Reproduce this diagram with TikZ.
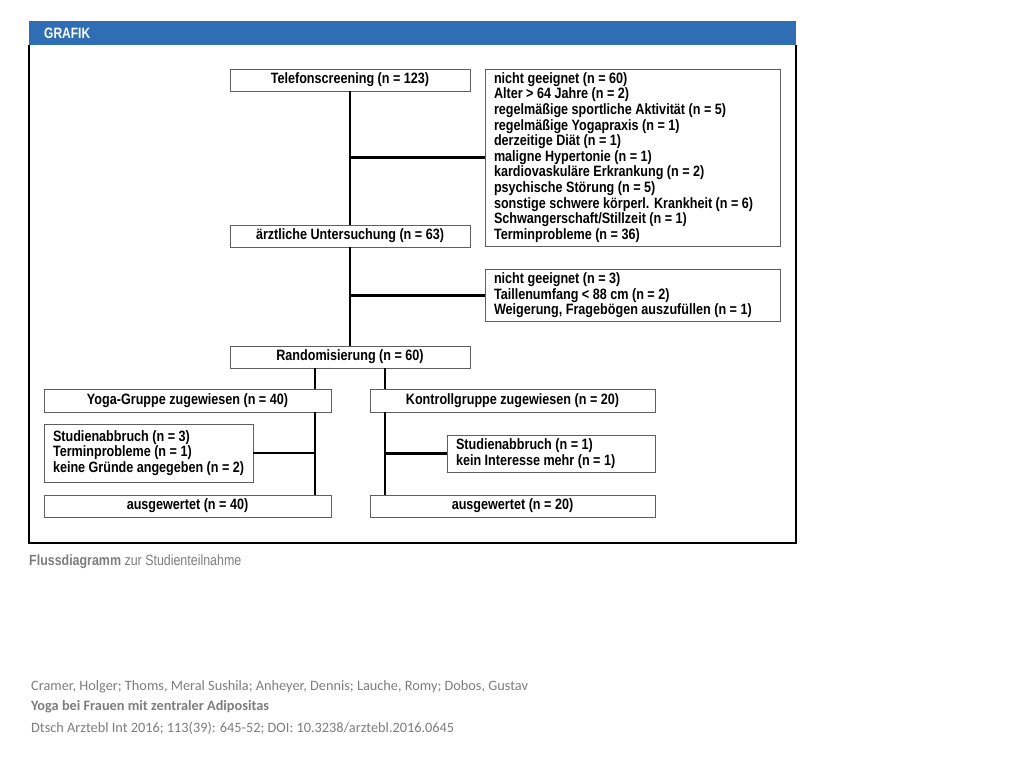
\documentclass[tikz,border=0pt]{standalone}
\usepackage{fontspec}
\setmainfont{Liberation Sans}
\newfontfamily\condfont[FakeStretch=0.84]{Liberation Sans}
\newfontfamily\headfont[FakeStretch=0.8]{Liberation Sans}
\newfontfamily\citefont{Carlito}
\usepackage{xcolor}
\usetikzlibrary{positioning,backgrounds}
\definecolor{grafikblue}{RGB}{47,110,181}
\definecolor{boxgrey}{RGB}{95,95,95}
\definecolor{capgrey}{RGB}{125,125,125}
\newcommand{\boxfont}{\condfont\bfseries\fontsize{15}{15.6}\selectfont}

\begin{document}
\begin{tikzpicture}[x=1pt,y=-1pt,
  box/.style={draw=boxgrey,line width=0.9pt,fill=white,inner sep=0pt,font=\boxfont,minimum height=22pt,minimum width=#1},
  box/.default=240pt,
  listbox/.style={draw=boxgrey,line width=0.9pt,fill=white,inner xsep=9pt,inner ysep=3pt,font=\boxfont,align=flush left,text width=#1},
  link/.style={line width=2.2pt},
  cite/.style={anchor=west,text=capgrey,inner sep=0pt,font=\citefont\fontsize{14.3}{15}\selectfont}]
\useasboundingbox (0,0) rectangle (1024,768);
% frame and header
\fill[grafikblue] (29,21) rectangle (796,45);
\draw[line width=1.5pt] (29,45) -- (29,543) -- (796,543) -- (796,45);
\node[anchor=west,text=white,inner sep=0pt,font=\headfont\bfseries\fontsize{15}{15}\selectfont] (grafik) at (44,33) {GRAFIK};

% screening
\node[box] (tel) at (350,80) {Telefonscreening (n = 123)};
\node[listbox=277pt,minimum height=177pt] (ex1) at (632.5,157.5) {nicht geeignet (n = 60)\\
  Alter > 64 Jahre (n = 2)\\
  regelmäßige sportliche Aktivität (n = 5)\\
  regelmäßige Yogapraxis (n = 1)\\
  derzeitige Diät (n = 1)\\
  maligne Hypertonie (n = 1)\\
  kardiovaskuläre Erkrankung (n = 2)\\
  psychische Störung (n = 5)\\
  sonstige schwere körperl. Krankheit (n = 6)\\
  Schwangerschaft/Stillzeit (n = 1)\\
  Terminprobleme (n = 36)};
\node[box] (arzt) at (350,236) {ärztliche Untersuchung (n = 63)};
\node[listbox=277pt,minimum height=51pt] (ex2) at (632.5,295.5) {nicht geeignet (n = 3)\\
  Taillenumfang < 88 cm (n = 2)\\
  Weigerung, Fragebögen auszufüllen (n = 1)};
\node[box] (rand) at (350,357) {Randomisierung (n = 60)};

% groups
\node[box=287pt,minimum height=23pt] (yoga) at (187.5,400.5) {Yoga-Gruppe zugewiesen (n = 40)};
\node[box=285pt,minimum height=23pt] (kontr) at (512.5,400.5) {Kontrollgruppe zugewiesen (n = 20)};
\node[listbox=191pt,minimum height=58pt] (abbr1) at (148.5,453) {Studienabbruch (n = 3)\\
  Terminprobleme (n = 1)\\
  keine Gründe angegeben (n = 2)};
\node[listbox=190pt,minimum height=37pt] (abbr2) at (551,453.5) {Studienabbruch (n = 1)\\
  kein Interesse mehr (n = 1)};
\node[box=287pt] (ausw1) at (187.5,506) {ausgewertet (n = 40)};
\node[box=285pt] (ausw2) at (512.5,506) {ausgewertet (n = 20)};

% connectors
\draw[link] (tel) -- (arzt);
\draw[link] (ex1.west) -- (ex1.west -| tel.south);
\draw[link] (arzt) -- (rand);
\draw[link] (ex2.west) -- (ex2.west -| arzt.south);
\coordinate (splitL) at (315,368);
\coordinate (splitR) at (385,368);
\draw[link] (splitL) -- (splitL |- yoga.north);
\draw[link] (splitR) -- (splitR |- kontr.north);
\draw[link] (yoga.south -| splitL) -- (ausw1.north -| splitL);
\draw[link] (kontr.south -| splitR) -- (ausw2.north -| splitR);
\draw[link] (abbr1.east) -- (abbr1.east -| splitL);
\draw[link] (abbr2.west) -- (abbr2.west -| splitR);

% caption and source
\node[anchor=west,inner sep=0pt,text=capgrey,font=\condfont\fontsize{14.8}{15}\selectfont] (caption) at (29,562) {\textbf{Flussdiagramm} zur Studienteilnahme};
\node[cite] (authors) at (31,687) {Cramer, Holger; Thoms, Meral Sushila; Anheyer, Dennis; Lauche, Romy; Dobos, Gustav};
\node[cite,font=\citefont\bfseries\fontsize{14.3}{15}\selectfont] (title) at (31,707) {Yoga bei Frauen mit zentraler Adipositas};
\node[cite] (journal) at (31,728) {Dtsch Arztebl Int 2016; 113(39): 645-52; DOI: 10.3238/arztebl.2016.0645};
\end{tikzpicture}
\end{document}
